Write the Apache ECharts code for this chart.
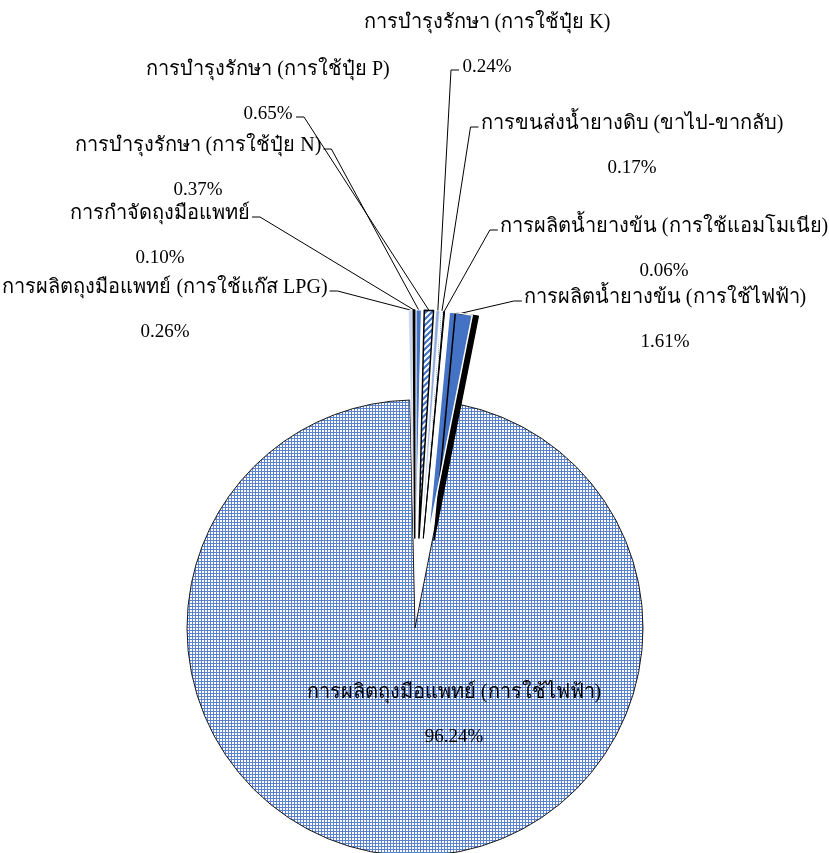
<!DOCTYPE html>
<html>
<head>
<meta charset="utf-8">
<script src="https://cdn.jsdelivr.net/npm/echarts@6/dist/echarts.min.js"></script>
<style>
html,body{margin:0;padding:0;background:#fff;}
#chart{width:829px;height:853px;}
</style>
</head>
<body>
<div id="chart"></div>
<script>
// Data (clockwise from 12 o'clock)
const categories = [
  'การบำรุงรักษา (การใช้ปุ๋ย N)',
  'การบำรุงรักษา (การใช้ปุ๋ย P)',
  'การบำรุงรักษา (การใช้ปุ๋ย K)',
  'การขนส่งน้ำยางดิบ (ขาไป-ขากลับ)',
  'การผลิตน้ำยางข้น (การใช้แอมโมเนีย)',
  'การผลิตน้ำยางข้น (การใช้ไฟฟ้า)',
  'การผลิตถุงมือแพทย์ (การใช้ไฟฟ้า)',
  'การผลิตถุงมือแพทย์ (การใช้แก๊ส LPG)',
  'การกำจัดถุงมือแพทย์'
];
const values = [0.37, 0.65, 0.24, 0.17, 0.06, 1.61, 96.24, 0.26, 0.10];
const exploded = [true, true, true, true, true, true, false, true, true];

// label block centres (annotation positions)
const labelPos = [
  [198, 168], [268, 92], [487, 45], [632, 146], [664, 249],
  [665, 320], [454, 715], [165, 310], [160, 236]
];
// where the leader line meets each label: which text line and which side
const leaderAttach = [
  ['name', 'right'], ['pct', 'right'], ['pct', 'left'], ['name', 'left'], ['name', 'left'],
  ['name', 'left'], null, ['name', 'right'], ['name', 'right']
];

const CX = 415, CY = 628, R = 228, EXPLODE = 90;
const LINE_H = 22;

function makePattern(kind) {
  const c = document.createElement('canvas');
  if (kind === 'checker') {
    c.width = 3; c.height = 3;
    const g = c.getContext('2d');
    g.fillStyle = '#5a82cf'; g.fillRect(0, 0, 3, 3);
    g.fillStyle = '#ffffff'; g.fillRect(1, 1, 2, 2);
  } else if (kind === 'hatch') {
    c.width = 6; c.height = 6;
    const g = c.getContext('2d');
    g.fillStyle = '#ffffff'; g.fillRect(0, 0, 6, 6);
    g.strokeStyle = '#4472c4'; g.lineWidth = 2.2;
    g.beginPath();
    g.moveTo(-1, 7); g.lineTo(7, -1);
    g.moveTo(-4, 4); g.lineTo(4, -4);
    g.moveTo(2, 10); g.lineTo(10, 2);
    g.stroke();
  } else if (kind === 'dots') {
    c.width = 2; c.height = 2;
    const g = c.getContext('2d');
    g.fillStyle = '#ffffff'; g.fillRect(0, 0, 2, 2);
    g.fillStyle = '#8eaadb'; g.fillRect(0, 0, 1, 1);
  }
  return { image: c, repeat: 'repeat' };
}

const sliceStyles = [
  { color: '#4472c4', borderColor: '#ffffff', borderWidth: 1 },
  { color: makePattern('hatch'), borderColor: '#000000', borderWidth: 1.5 },
  { color: '#8eaadb', borderColor: '#ffffff', borderWidth: 0.5 },
  { color: makePattern('dots'), borderColor: '#ffffff', borderWidth: 0.5 },
  { color: '#000000', borderColor: '#000000', borderWidth: 1 },
  { color: '#4472c4', borderColor: '#ffffff', borderWidth: 1.5, shadowColor: '#000', shadowOffsetX: 6, shadowOffsetY: 1, shadowBlur: 0 },
  { color: makePattern('checker'), borderColor: '#1a1a1a', borderWidth: 1 },
  { color: '#c9d5ee', borderColor: '#ffffff', borderWidth: 0.5 },
  { color: '#000000', borderColor: '#000000', borderWidth: 1.5 }
];

const font = '"Liberation Serif", "Times New Roman", serif';

const total = values.reduce((a, b) => a + b, 0);
let cum = 0;
const mids = values.map((v) => { const m = (cum + v / 2) / total * 2 * Math.PI; cum += v; return m; });

const series = [];
// draw big slice first, then the exploded ones
const order = [6, 0, 1, 2, 3, 4, 5, 7, 8];

order.forEach((i) => {
  const d = exploded[i] ? EXPLODE : 0;
  series.push({
    type: 'pie',
    name: categories[i],
    center: [CX + d * Math.sin(mids[i]), CY - d * Math.cos(mids[i])],
    radius: R,
    startAngle: 90,
    clockwise: true,
    avoidLabelOverlap: false,
    silent: true,
    z: i === 6 ? 1 : 2,
    data: categories.map((name, j) => ({
      name: name,
      value: values[j],
      itemStyle: j === i ? sliceStyles[j] : { color: 'rgba(0,0,0,0)', borderWidth: 0 },
      label: { show: j === i },
      labelLine: { show: j === i && i !== 6 }
    })),
    label: {
      position: 'outside',
      fontFamily: font,
      color: '#000',
      lineHeight: LINE_H,
      fontSize: 19,
      textBorderWidth: 0,
      align: 'center',
      formatter: p => '{n|' + p.name + '}\n\n{p|' + p.value.toFixed(2) + '%}',
      rich: {
        n: { fontFamily: font, fontSize: 20, lineHeight: LINE_H, color: '#000' },
        p: { fontFamily: font, fontSize: 19, lineHeight: LINE_H, color: '#000' }
      }
    },
    labelLine: {
      length: 20,
      length2: 10,
      lineStyle: { color: '#000', width: 1 }
    },
    labelLayout: function (params) {
      const k = params.dataIndex;
      const pos = labelPos[k];
      const out = { x: pos[0], y: pos[1], align: 'center', verticalAlign: 'middle' };
      const at = leaderAttach[k];
      const pts = params.labelLinePoints;
      if (at && pts && pts.length) {
        const half = at[0] === 'name' ? params.labelRect.width / 2 : 26;
        const sgn = at[1] === 'right' ? 1 : -1;
        const ay = pos[1] + (at[0] === 'name' ? -LINE_H : LINE_H) + 3;
        const ax = pos[0] + sgn * (half + 2);
        out.labelLinePoints = [pts[0].slice ? pts[0].slice() : [pts[0][0], pts[0][1]], [ax + sgn * 8, ay], [ax, ay]];
      }
      return out;
    },
    emphasis: { disabled: true }
  });
});

const chart = echarts.init(document.getElementById('chart'), null, { renderer: 'canvas' });
chart.setOption({
  animation: false,
  backgroundColor: '#ffffff',
  series: series
});
</script>
</body>
</html>
